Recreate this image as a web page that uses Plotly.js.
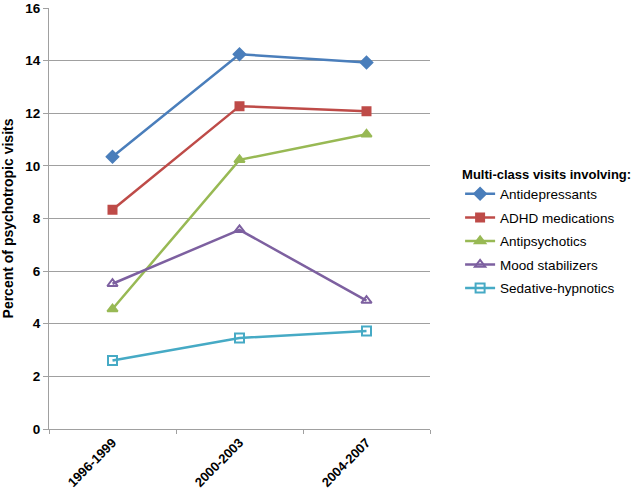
<!DOCTYPE html>
<html>
<head>
<meta charset="utf-8">
<script src="https://cdn.plot.ly/plotly-3.0.1.min.js"></script>
<style>html,body{margin:0;padding:0;background:#fff;}#chart{width:637px;height:500px;}</style>
</head>
<body>
<div id="chart"></div>
<script>
const periods = ["1996-1999", "2000-2003", "2004-2007"];
const antidepressants = [10.35, 14.24, 13.93];
const adhd = [8.33, 12.27, 12.08];
const antipsychotics = [4.56, 10.23, 11.2];
const moodStabilizers = [5.52, 7.57, 4.88];
const sedativeHypnotics = [2.6, 3.46, 3.72];
const seriesNames = ["Antidepressants", "ADHD medications", "Antipsychotics", "Mood stabilizers", "Sedative-hypnotics"];
const legendTitle = "Multi-class visits involving:";
const yTitle = "Percent of psychotropic visits";

const seriesData = [antidepressants, adhd, antipsychotics, moodStabilizers, sedativeHypnotics];
const colors = ["#4A7EBB", "#BE4B48", "#98B954", "#7D60A0", "#46AAC5"];
const symbols = ["diamond", "square", "triangle-up", "triangle-up-open", "square-open"];
const sizes = [9, 8, 9, 9, 9];

const traces = seriesData.map((vals, i) => ({
  x: periods,
  y: vals,
  name: seriesNames[i],
  legendgroup: "g" + i,
  type: "scatter",
  mode: "lines+markers",
  line: {color: colors[i], width: 2.5},
  marker: {symbol: symbols[i], size: sizes[i], color: colors[i], line: {color: colors[i], width: 2}}
}));

const layout = {
  width: 637, height: 500,
  margin: {l: 49, r: 207, t: 8, b: 71, autoexpand: false},
  paper_bgcolor: "#fff", plot_bgcolor: "#fff",
  font: {family: "Liberation Sans, Arial, sans-serif", color: "#000"},
  showlegend: true,
  legend: {
    x: 1.079, y: 0.635, xanchor: "left", yanchor: "top",
    font: {size: 13.5, color: "#000"},
    title: {text: "<b>" + legendTitle + "</b>", font: {size: 13}},
    tracegroupgap: 3, itemwidth: 30
  },
  xaxis: {
    type: "category",
    range: [-0.5, 2.5],
    automargin: false,
    tickson: "boundaries",
    ticks: "outside", ticklen: 4, tickcolor: "#A0A0A0",
    showline: true, linecolor: "#A0A0A0", linewidth: 1,
    showgrid: false, zeroline: false,
    tickangle: -45,
    tickfont: {size: 13, color: "#000", weight: "bold"}
  },
  yaxis: {
    range: [0, 16], dtick: 2,
    automargin: false,
    showline: true, linecolor: "#A0A0A0", linewidth: 1,
    ticks: "outside", ticklen: 5, tickcolor: "#A0A0A0",
    gridcolor: "#A0A0A0", gridwidth: 1, zeroline: false,
    tickfont: {size: 13.5, color: "#000", weight: "bold"},
    title: {text: "<b>" + yTitle + "</b>", font: {size: 14, color: "#000"}, standoff: 10}
  }
};

Plotly.newPlot("chart", traces, layout, {displayModeBar: false, staticPlot: true});
</script>
</body>
</html>
